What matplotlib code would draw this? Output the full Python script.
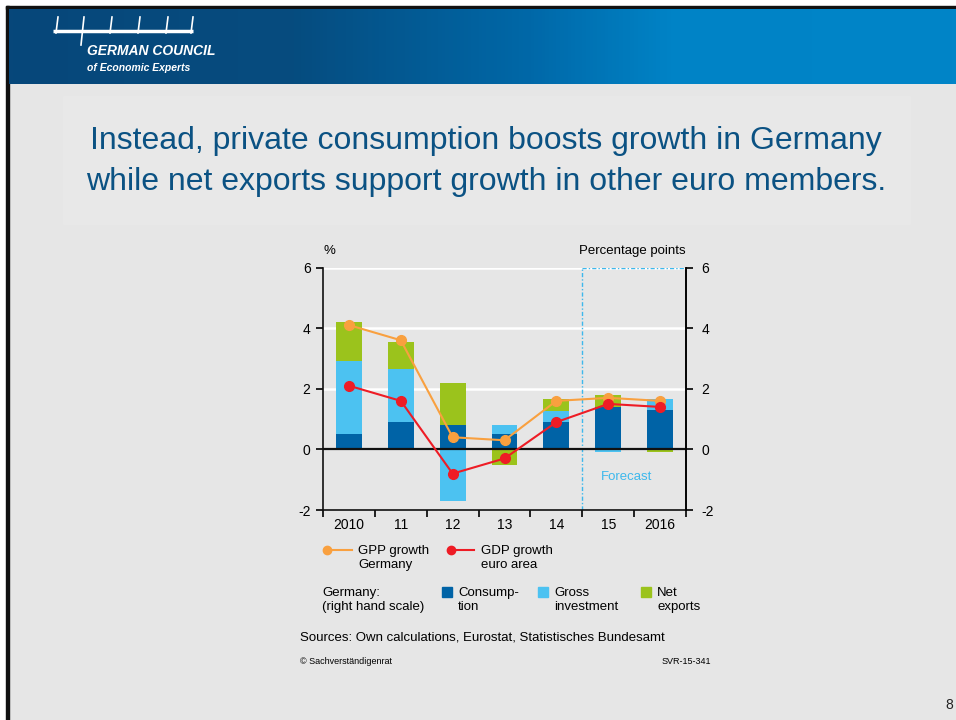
import numpy as np
import matplotlib.pyplot as plt
from matplotlib.lines import Line2D
from matplotlib.patches import Rectangle
from matplotlib.colors import LinearSegmentedColormap

years = ['2010', '11', '12', '13', '14', '15', '2016']
consumption = [0.5, 0.9, 0.8, 0.5, 0.9, 1.4, 1.3]
investment = [2.4, 1.75, -1.7, 0.3, 0.35, -0.1, 0.35]
net_exports = [1.3, 0.9, 1.4, -0.5, 0.4, 0.4, -0.1]
gdp_germany = [4.1, 3.6, 0.4, 0.3, 1.6, 1.7, 1.6]
gdp_euro = [2.1, 1.6, -0.8, -0.3, 0.9, 1.5, 1.4]

C_CONS = '#0063a6'
C_INV = '#4cc2f1'
C_NX = '#9bc31c'
C_GER = '#f9a03f'
C_EUR = '#ee1c25'
C_FC = '#3db8ec'
BG = '#e6e6e6'
TITLE_BLUE = '#0b5283'

FONT = ['Liberation Sans Narrow', 'Liberation Sans', 'DejaVu Sans']
plt.rcParams['font.family'] = FONT
plt.rcParams['axes.unicode_minus'] = False

W, H = 956, 720
fig = plt.figure(figsize=(W / 100, H / 100), dpi=100)


def fx(x):
    return x / W


def fy(y):
    return 1 - y / H


# slide background, header band and logo
bg = fig.add_axes([0, 0, 1, 1])
bg.axis('off')
bg.add_patch(Rectangle((0, 0), W, H, color='white', zorder=0))
bg.add_patch(Rectangle((9, 9), W, H, color=BG, zorder=0.1))
bg.add_patch(Rectangle((6, 6), W, 3, color='#111111', zorder=0.2))
bg.add_patch(Rectangle((6, 6), 3, H, color='#111111', zorder=0.2))
band = LinearSegmentedColormap.from_list(
    'band', [(0, '#07477a'), (0.3, '#064c7f'), (0.55, '#0068a8'), (0.7, '#0083c6'), (1, '#0085c8')])
grad = np.linspace(0, 1, 256).reshape(1, -1)
bg.imshow(grad, cmap=band, extent=(9, W, 84, 9), aspect='auto', zorder=0.5)
bg.set_xlim(0, W)
bg.set_ylim(H, 0)
bg.add_patch(Rectangle((63, 96), 847, 128, color='#e8e8e8', zorder=0.6))

bg.plot([53, 193], [31, 31], color='white', lw=2.5, solid_capstyle='butt', zorder=2)
for x0 in [56, 110, 138, 166, 191]:
    bg.plot([x0, x0 + 2], [33, 17], color='white', lw=1.2, zorder=2)
bg.plot([81, 84], [45, 17], color='white', lw=1.2, zorder=2)
bg.text(87, 51, 'GERMAN COUNCIL', color='white', fontsize=10, fontweight='bold',
        style='italic', va='center', ha='left', family=['Liberation Sans', 'DejaVu Sans'])
bg.text(87, 68, 'of Economic Experts', color='white', fontsize=7.5, fontweight='bold',
        style='italic', va='center', ha='left', family=['Liberation Sans', 'DejaVu Sans'])

bg.text(486, 141, 'Instead, private consumption boosts growth in Germany',
        color=TITLE_BLUE, fontsize=23, ha='center', va='center',
        family=['Liberation Sans', 'DejaVu Sans'])
bg.text(486, 182, 'while net exports support growth in other euro members.',
        color=TITLE_BLUE, fontsize=23, ha='center', va='center',
        family=['Liberation Sans', 'DejaVu Sans'])
bg.text(953, 705, '8', fontsize=10, ha='right', va='center', color='#222222',
        family=['Liberation Sans', 'DejaVu Sans'])

# chart
x = np.arange(len(years))
ax = fig.add_axes([fx(323), fy(510), fx(686) - fx(323), fy(267.5) - fy(510)])
ax.patch.set_alpha(0)
pos_base = np.zeros(len(years))
neg_base = np.zeros(len(years))
for vals, col in [(consumption, C_CONS), (investment, C_INV), (net_exports, C_NX)]:
    v = np.array(vals)
    base = np.where(v >= 0, pos_base, neg_base)
    ax.bar(x, v, 0.5, bottom=base, color=col, zorder=2, linewidth=0)
    pos_base += np.clip(v, 0, None)
    neg_base += np.clip(v, None, 0)

for yv in [2, 4, 6]:
    ax.axhline(yv, color='white', lw=1.8, zorder=1)
ax.axhline(0, color='#111111', lw=1.6, zorder=3)

ax.plot([4.5, 4.5], [-2, 6], color=C_FC, lw=1, ls=(0, (3, 1.5, 1, 1.5)), zorder=1.5)
ax.plot([4.5, 6.5], [6, 6], color=C_FC, lw=1, ls=(0, (3, 1.5, 1, 1.5)), zorder=1.6)
ax.text(5.36, -0.9, 'Forecast', color=C_FC, fontsize=9.5, ha='center', va='center')

ax.plot(x, gdp_germany, color=C_GER, lw=1.5, marker='o', ms=7, zorder=4)
ax.plot(x, gdp_euro, color=C_EUR, lw=1.5, marker='o', ms=7, zorder=5)

ax.set_xlim(-0.5, 6.5)
ax.set_ylim(-2, 6)
ax.spines['top'].set_visible(False)
for s in ['left', 'right', 'bottom']:
    ax.spines[s].set_linewidth(1.2)
    ax.spines[s].set_color('#111111')
ax.set_xticks(x)
ax.set_xticklabels(years, fontsize=10)
ax.set_xticks(np.arange(-0.5, 7, 1), minor=True)
ax.tick_params(axis='x', which='major', length=0, pad=6)
ax.tick_params(axis='x', which='minor', length=5, width=1.2, direction='out')
ax.set_yticks([-2, 0, 2, 4, 6])
ax.tick_params(axis='y', length=5, width=1.2, labelsize=10, pad=4)

ax2 = ax.twinx()
ax2.set_ylim(-2, 6)
ax2.set_yticks([-2, 0, 2, 4, 6])
ax2.tick_params(axis='y', length=5, width=1.2, labelsize=10, pad=6)
for s in ['top', 'left', 'bottom']:
    ax2.spines[s].set_visible(False)
ax2.spines['right'].set_linewidth(1.2)

fig.text(fx(323), fy(251), '%', fontsize=9.5, ha='left', va='center')
fig.text(fx(686), fy(251), 'Percentage points', fontsize=9.5, ha='right', va='center')

# legend
for (x0, x1, col) in [(327, 352, C_GER), (451, 474, C_EUR)]:
    fig.add_artist(Line2D([fx(x0), fx(x1)], [fy(550), fy(550)], color=col, lw=1.5))
    fig.add_artist(Line2D([fx(x0)], [fy(550)], color=col, marker='o', ms=6))
fig.text(fx(358), fy(558), 'GPP growth\nGermany', fontsize=9.5, ha='left', va='center', linespacing=1.15)
fig.text(fx(481), fy(558), 'GDP growth\neuro area', fontsize=9.5, ha='left', va='center', linespacing=1.15)
fig.text(fx(322), fy(600), 'Germany:\n(right hand scale)', fontsize=9.5, ha='left', va='center', linespacing=1.15)
for (xc, col, label) in [(447, C_CONS, 'Consump-\ntion'), (543, C_INV, 'Gross\ninvestment'),
                         (646, C_NX, 'Net\nexports')]:
    fig.add_artist(Rectangle((fx(xc - 5), fy(597)), fx(10), 10 / H, color=col))
    fig.text(fx(xc + 11), fy(600), label, fontsize=9.5, ha='left', va='center', linespacing=1.15)

fig.text(fx(300), fy(638), 'Sources: Own calculations, Eurostat, Statistisches Bundesamt',
         fontsize=9.5, ha='left', va='center')
fig.text(fx(300), fy(662), '© Sachverständigenrat', fontsize=6.5, ha='left', va='center')
fig.text(fx(711), fy(662), 'SVR-15-341', fontsize=6.5, ha='right', va='center')

fig.savefig('out.png', dpi=100)
